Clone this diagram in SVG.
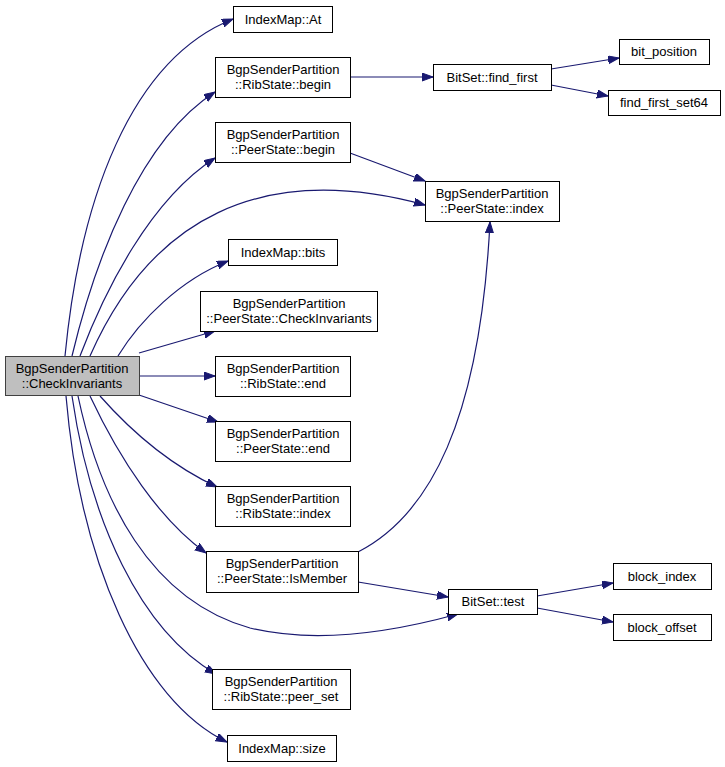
<svg xmlns="http://www.w3.org/2000/svg" width="725" height="767" viewBox="0 0 725 767">
<style>
.n rect{fill:#fff;stroke:#000;stroke-width:1}
.root rect{fill:#bfbfbf;stroke:#404040}
text{font-family:"Liberation Sans",Arial,sans-serif;font-size:13px;fill:#000;text-anchor:middle}
.e path{fill:none;stroke:#191970;stroke-width:1.2;marker-end:url(#a)}
</style>
<defs>
<marker id="a" markerUnits="userSpaceOnUse" markerWidth="12" markerHeight="10" refX="11" refY="4" orient="auto">
<path d="M0,0 L11,4 L0,8 z" fill="#191970" stroke="#191970" stroke-width="1"/>
</marker>
</defs>
<rect width="725" height="767" fill="#fff"/>
<g id="edges" class="e">
<path d="M65,356 C80,200 130,60 233,19"/>
<path d="M72,356 C95,260 140,140 215,92"/>
<path d="M80,356 C105,290 150,200 215,158"/>
<path d="M90,356 C150,220 260,160 425,205"/>
<path d="M118,356 C140,320 180,280 228,261"/>
<path d="M139,353 L215,331"/>
<path d="M139,376 L215,376"/>
<path d="M139,395 L218,422"/>
<path d="M100,396 C130,430 170,465 217,487"/>
<path d="M90,396 C120,460 160,520 206,553"/>
<path d="M78,396 C100,500 150,600 250,628 C320,645 400,630 458,614"/>
<path d="M72,396 C90,520 140,630 216,674"/>
<path d="M66,396 C80,560 140,700 227,742"/>
<path d="M350,77 L433,77"/>
<path d="M551,69 L619,58"/>
<path d="M551,85 L608,96"/>
<path d="M350,153 L425,181"/>
<path d="M358,552 C430,515 480,420 490,222"/>
<path d="M358,582 L448,597"/>
<path d="M537,596 L613,583"/>
<path d="M537,608 L613,622"/>
</g>
<g id="main" class="n root"><rect x="5.5" y="356.5" width="134" height="39"/><text x="72" y="373">BgpSenderPartition</text><text x="72" y="388">::CheckInvariants</text></g>
<g id="at" class="n"><rect x="233.5" y="6.5" width="99" height="26"/><text x="283" y="24">IndexMap::At</text></g>
<g id="ribbegin" class="n"><rect x="215.5" y="57.5" width="135" height="40"/><text x="283" y="74">BgpSenderPartition</text><text x="283" y="89">::RibState::begin</text></g>
<g id="findfirst" class="n"><rect x="433.5" y="64.5" width="118" height="26"/><text x="492" y="82">BitSet::find_first</text></g>
<g id="bitposition" class="n"><rect x="619.5" y="39.5" width="90" height="25"/><text x="664" y="56">bit_position</text></g>
<g id="findfirstset64" class="n"><rect x="608.5" y="90.5" width="112" height="25"/><text x="664" y="107">find_first_set64</text></g>
<g id="peerbegin" class="n"><rect x="215.5" y="122.5" width="135" height="40"/><text x="283" y="139">BgpSenderPartition</text><text x="283" y="154">::PeerState::begin</text></g>
<g id="peerindex" class="n"><rect x="425.5" y="181.5" width="134" height="40"/><text x="492" y="198">BgpSenderPartition</text><text x="492" y="213">::PeerState::index</text></g>
<g id="bits" class="n"><rect x="228.5" y="239.5" width="109" height="26"/><text x="283" y="257">IndexMap::bits</text></g>
<g id="peercheck" class="n"><rect x="200.5" y="291.5" width="177" height="40"/><text x="289" y="308">BgpSenderPartition</text><text x="289" y="323">::PeerState::CheckInvariants</text></g>
<g id="ribend" class="n"><rect x="215.5" y="356.5" width="135" height="40"/><text x="283" y="373">BgpSenderPartition</text><text x="283" y="388">::RibState::end</text></g>
<g id="peerend" class="n"><rect x="215.5" y="421.5" width="135" height="40"/><text x="283" y="438">BgpSenderPartition</text><text x="283" y="453">::PeerState::end</text></g>
<g id="ribindex" class="n"><rect x="215.5" y="486.5" width="135" height="40"/><text x="283" y="503">BgpSenderPartition</text><text x="283" y="518">::RibState::index</text></g>
<g id="ismember" class="n"><rect x="206.5" y="551.5" width="152" height="41"/><text x="282" y="568">BgpSenderPartition</text><text x="282" y="583">::PeerState::IsMember</text></g>
<g id="test" class="n"><rect x="448.5" y="589.5" width="89" height="25"/><text x="493" y="606">BitSet::test</text></g>
<g id="blockindex" class="n"><rect x="613.5" y="563.5" width="98" height="26"/><text x="662" y="581">block_index</text></g>
<g id="blockoffset" class="n"><rect x="613.5" y="614.5" width="98" height="26"/><text x="662" y="632">block_offset</text></g>
<g id="peerset" class="n"><rect x="212.5" y="669.5" width="138" height="40"/><text x="281" y="686">BgpSenderPartition</text><text x="281" y="701">::RibState::peer_set</text></g>
<g id="size" class="n"><rect x="227.5" y="735.5" width="109" height="26"/><text x="282" y="753">IndexMap::size</text></g>
</svg>
